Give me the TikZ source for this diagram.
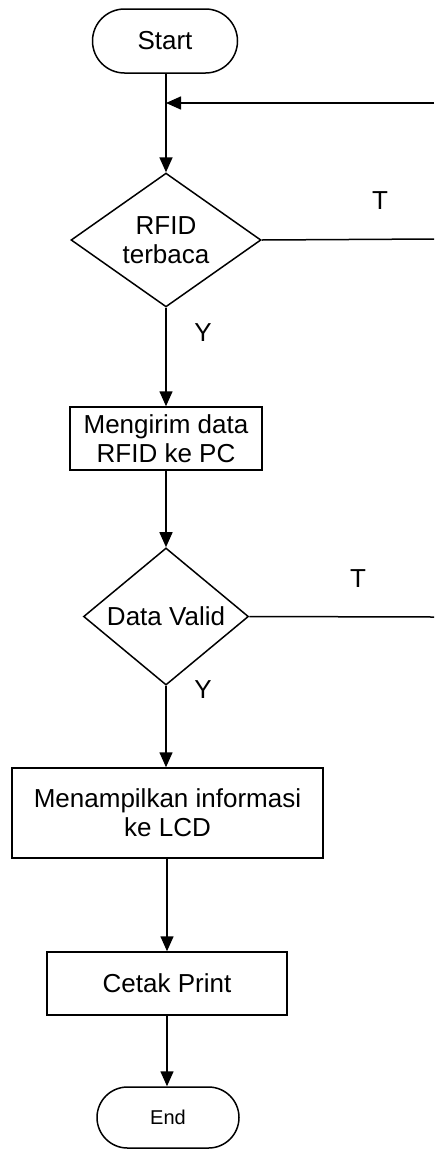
\documentclass[tikz,border=0pt]{standalone}
\usepackage{fontspec}
\setmainfont{Liberation Sans}
\usetikzlibrary{shapes.geometric,shapes.misc,arrows.meta}
\begin{document}
\begin{tikzpicture}[x=1pt,y=1pt,
  every node/.style={font=\fontsize{26}{29}\selectfont, align=center, inner sep=0pt},
  flowline/.style={line width=1.5pt},
  flowarrow/.style={flowline, -{Triangle[length=15pt,width=13pt]}},
  terminal/.style={draw, line width=1.5pt, rounded rectangle},
  procbox/.style={draw, line width=1.5pt, rectangle},
  decision/.style={draw, line width=1.5pt, diamond},
  lbl/.style={font=\fontsize{26}{29}\selectfont}]
  \useasboundingbox (0,0) rectangle (434,-1149);

  % terminals, process boxes and decisions
  \node[terminal, minimum width=145pt, minimum height=64pt] (start) at (165,-41) {Start};
  \node[decision, minimum width=190pt, minimum height=126pt] (d1) at (166,-240) {RFID\\terbaca};
  \node[procbox, minimum width=192pt, minimum height=63pt] (box1) at (166,-438.5) {Mengirim data\\RFID ke PC};
  \node[decision, minimum width=165pt, minimum height=103pt] (d2) at (166,-616.5) {Data Valid};
  \node[procbox, minimum width=311pt, minimum height=90pt] (box2) at (167.5,-813) {Menampilkan informasi\\ke LCD};
  \node[procbox, minimum width=240pt, minimum height=63pt] (box3) at (167,-983.5) {Cetak Print};
  \node[terminal, minimum width=142pt, minimum height=61pt, font=\fontsize{20}{24}\selectfont] (end) at (168,-1117.5) {End};

  % loop-back joint on the main line and the open ends at the right margin
  \coordinate (join) at (166,-103);
  \coordinate (back) at (434,-103);
  \coordinate (t1) at (434,-239);
  \coordinate (t2) at (434,-617);

  % main flow
  \draw[flowline] (start.south -| join) -- (join);
  \draw[flowarrow] (join) -- (d1.north);
  \draw[flowarrow] (d1.south) -- (box1.north -| d1.south);
  \draw[flowarrow] (box1.south -| d2.north) -- (d2.north);
  \draw[flowarrow] (d2.south) -- (d2.south |- box2.north);
  \draw[flowarrow] (box2.south -| box3.north) -- (box3.north);
  \draw[flowarrow] (box3.south) -- (box3.south |- end.north);

  % "T" branches and the return line
  \draw[flowline] (d1.east) -- (t1);
  \draw[flowline] (d2.east) -- (t2);
  \draw[flowarrow] (back) -- (join);

  % branch labels
  \node[lbl] (lt1) at (380,-201) {T};
  \node[lbl] (ly1) at (203,-333) {Y};
  \node[lbl] (lt2) at (358,-579) {T};
  \node[lbl] (ly2) at (203,-690) {Y};
\end{tikzpicture}
\end{document}
